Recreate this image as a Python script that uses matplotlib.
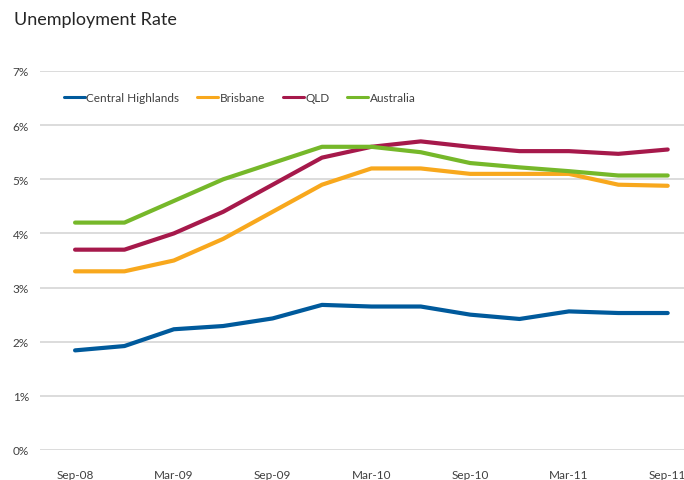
import matplotlib
matplotlib.use("Agg")
import matplotlib.pyplot as plt
import matplotlib.ticker as ticker
import numpy as np

plt.rcParams.update({
    "font.family": ["Lato", "DejaVu Sans"], "font.size": 8.5,
    "axes.linewidth": 0, "text.color": "#404040",
    "xtick.color": "#404040", "ytick.color": "#404040",
})

quarters = ["Sep-08", "Dec-08", "Mar-09", "Jun-09", "Sep-09", "Dec-09", "Mar-10",
            "Jun-10", "Sep-10", "Dec-10", "Mar-11", "Jun-11", "Sep-11"]
central_highlands = [1.84, 1.92, 2.23, 2.29, 2.43, 2.68, 2.65, 2.65, 2.50, 2.42, 2.56, 2.53, 2.53]
brisbane = [3.3, 3.3, 3.5, 3.9, 4.4, 4.9, 5.2, 5.2, 5.1, 5.1, 5.1, 4.9, 4.88]
qld = [3.7, 3.7, 4.0, 4.4, 4.9, 5.4, 5.6, 5.7, 5.6, 5.52, 5.52, 5.47, 5.55]
australia = [4.2, 4.2, 4.6, 5.0, 5.3, 5.6, 5.6, 5.5, 5.3, 5.22, 5.15, 5.07, 5.07]

series = [("Central Highlands", central_highlands, "#005A9C"),
          ("Brisbane", brisbane, "#F8A81D"),
          ("QLD", qld, "#A6194B"),
          ("Australia", australia, "#76B82A")]

fig = plt.figure(figsize=(6.84, 4.81), dpi=100)
ax = fig.add_axes([40 / 684, 30 / 481, 644 / 684, 379 / 481])
x = np.arange(len(quarters))
for name, vals, col in series:
    ax.plot(x, vals, color=col, lw=3, label=name, solid_capstyle="round")

ax.set_ylim(0, 7)
ax.set_xlim(-0.71, 12.33)
ax.yaxis.set_major_locator(ticker.MultipleLocator(1))
ax.yaxis.set_major_formatter(ticker.FuncFormatter(lambda v, p: f"{v:.0f}%"))
ax.set_xticks(x[::2])
ax.set_xticklabels(quarters[::2])
ax.tick_params(axis="x", length=0, pad=14)
ax.tick_params(axis="y", length=0, pad=8)
ax.grid(axis="y", color="#D9D9D9", lw=1.3)
ax.set_axisbelow(True)
for s in ax.spines.values():
    s.set_visible(False)

leg = ax.legend(loc="center left", bbox_to_anchor=(0.03, 0.931), ncol=4, frameon=False,
                handlelength=1.8, handletextpad=0.1, columnspacing=1.5, fontsize=8.5,
                borderaxespad=0)
for h in leg.get_lines():
    h.set_linewidth(2.2)

fig.text(14 / 684, 1 - 20 / 481, "Unemployment Rate", fontsize=13, va="center", ha="left",
         color="#262626")

fig.savefig("out.png", dpi=100)
